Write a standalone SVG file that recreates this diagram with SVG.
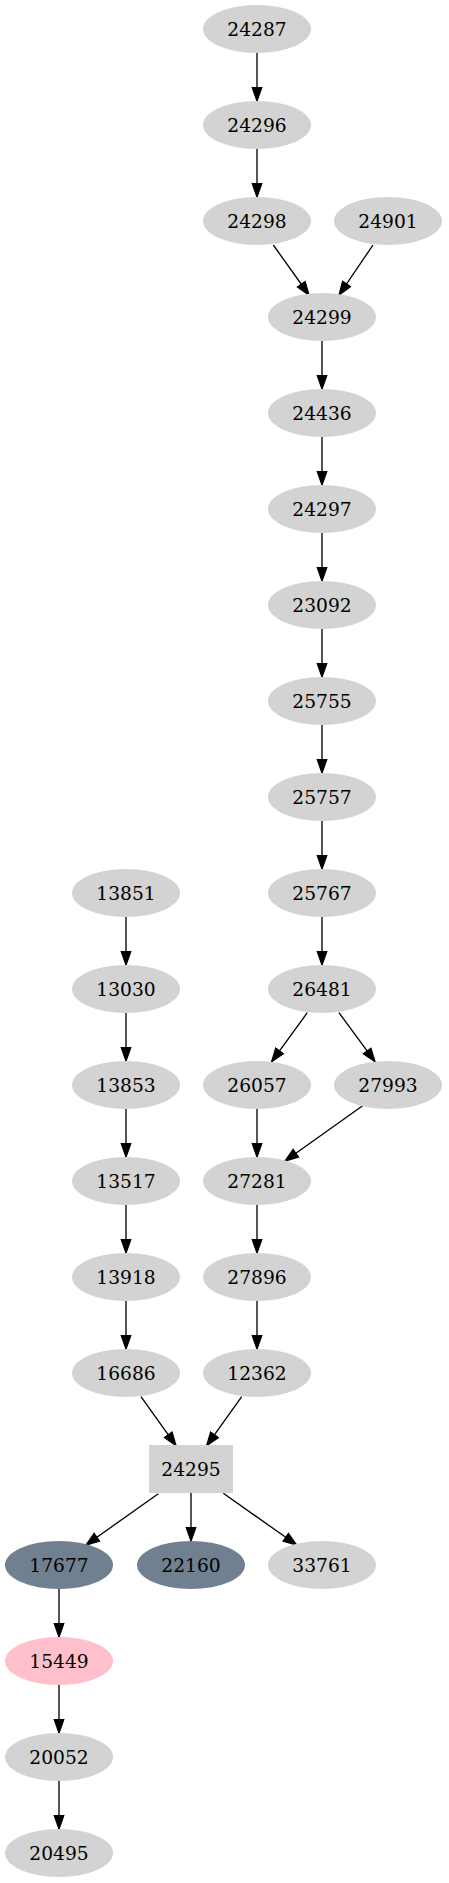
<svg xmlns="http://www.w3.org/2000/svg" width="449" height="1883" viewBox="0 0 449 1883">
<style>
.n ellipse,.n rect{fill:#d3d3d3;stroke:none}
.n.s ellipse{fill:#708090}
.n.p ellipse{fill:#ffc0cb}
.n text{font-family:"DejaVu Serif","Liberation Serif",serif;font-size:18.67px;text-anchor:middle;fill:#000}
.e path{fill:none;stroke:#000;stroke-width:1.33;marker-end:url(#a)}
</style>
<defs>
<marker id="a" markerUnits="userSpaceOnUse" markerWidth="16" markerHeight="12" viewBox="-1 -1 16 12" refX="13.3" refY="4.67" orient="auto">
<path d="M0,0 L13.3,4.67 L0,9.33 z" fill="#000" stroke="#000" stroke-width="1.33"/>
</marker>
</defs>
<rect width="449" height="1883" fill="#fff"/>
<g id="edges" class="e">
<path d="M257,53 L257,101"/>
<path d="M257,149 L257,197"/>
<path d="M273.3,245 L309,295"/>
<path d="M373,245 L339,295"/>
<path d="M322,341 L322,389"/>
<path d="M322,437 L322,485"/>
<path d="M322,533 L322,581"/>
<path d="M322,629 L322,677"/>
<path d="M322,725 L322,773"/>
<path d="M322,821 L322,869"/>
<path d="M322,917 L322,965"/>
<path d="M126,917 L126,965"/>
<path d="M126,1013 L126,1061"/>
<path d="M126,1109 L126,1157"/>
<path d="M126,1205 L126,1253"/>
<path d="M126,1301 L126,1349"/>
<path d="M307.3,1012.7 L271.7,1061.7"/>
<path d="M339,1012.7 L375,1061.7"/>
<path d="M362.3,1106 L285,1161"/>
<path d="M257,1109 L257,1157"/>
<path d="M257,1205 L257,1253"/>
<path d="M257,1301 L257,1349"/>
<path d="M141,1396.7 L176,1445.7"/>
<path d="M241.7,1396.7 L206.7,1445.7"/>
<path d="M158.3,1493.7 L86,1545"/>
<path d="M191,1493 L191,1541"/>
<path d="M223.3,1493.3 L296.7,1545"/>
<path d="M59,1589 L59,1637"/>
<path d="M59,1685 L59,1733"/>
<path d="M59,1781 L59,1829"/>
</g>
<g id="n24287" class="n"><ellipse cx="257" cy="29" rx="54" ry="24"/><text x="257" y="35.5">24287</text></g>
<g id="n24296" class="n"><ellipse cx="257" cy="125" rx="54" ry="24"/><text x="257" y="131.5">24296</text></g>
<g id="n24298" class="n"><ellipse cx="257" cy="221" rx="54" ry="24"/><text x="257" y="227.5">24298</text></g>
<g id="n24901" class="n"><ellipse cx="388" cy="221" rx="54" ry="24"/><text x="388" y="227.5">24901</text></g>
<g id="n24299" class="n"><ellipse cx="322" cy="317" rx="54" ry="24"/><text x="322" y="323.5">24299</text></g>
<g id="n24436" class="n"><ellipse cx="322" cy="413" rx="54" ry="24"/><text x="322" y="419.5">24436</text></g>
<g id="n24297" class="n"><ellipse cx="322" cy="509" rx="54" ry="24"/><text x="322" y="515.5">24297</text></g>
<g id="n23092" class="n"><ellipse cx="322" cy="605" rx="54" ry="24"/><text x="322" y="611.5">23092</text></g>
<g id="n25755" class="n"><ellipse cx="322" cy="701" rx="54" ry="24"/><text x="322" y="707.5">25755</text></g>
<g id="n25757" class="n"><ellipse cx="322" cy="797" rx="54" ry="24"/><text x="322" y="803.5">25757</text></g>
<g id="n25767" class="n"><ellipse cx="322" cy="893" rx="54" ry="24"/><text x="322" y="899.5">25767</text></g>
<g id="n13851" class="n"><ellipse cx="126" cy="893" rx="54" ry="24"/><text x="126" y="899.5">13851</text></g>
<g id="n26481" class="n"><ellipse cx="322" cy="989" rx="54" ry="24"/><text x="322" y="995.5">26481</text></g>
<g id="n13030" class="n"><ellipse cx="126" cy="989" rx="54" ry="24"/><text x="126" y="995.5">13030</text></g>
<g id="n13853" class="n"><ellipse cx="126" cy="1085" rx="54" ry="24"/><text x="126" y="1091.5">13853</text></g>
<g id="n26057" class="n"><ellipse cx="257" cy="1085" rx="54" ry="24"/><text x="257" y="1091.5">26057</text></g>
<g id="n27993" class="n"><ellipse cx="388" cy="1085" rx="54" ry="24"/><text x="388" y="1091.5">27993</text></g>
<g id="n13517" class="n"><ellipse cx="126" cy="1181" rx="54" ry="24"/><text x="126" y="1187.5">13517</text></g>
<g id="n27281" class="n"><ellipse cx="257" cy="1181" rx="54" ry="24"/><text x="257" y="1187.5">27281</text></g>
<g id="n13918" class="n"><ellipse cx="126" cy="1277" rx="54" ry="24"/><text x="126" y="1283.5">13918</text></g>
<g id="n27896" class="n"><ellipse cx="257" cy="1277" rx="54" ry="24"/><text x="257" y="1283.5">27896</text></g>
<g id="n16686" class="n"><ellipse cx="126" cy="1373" rx="54" ry="24"/><text x="126" y="1379.5">16686</text></g>
<g id="n12362" class="n"><ellipse cx="257" cy="1373" rx="54" ry="24"/><text x="257" y="1379.5">12362</text></g>
<g id="n24295" class="n"><rect x="149" y="1445" width="84" height="48"/><text x="191" y="1475.5">24295</text></g>
<g id="n17677" class="n s"><ellipse cx="59" cy="1565" rx="54" ry="24"/><text x="59" y="1571.5">17677</text></g>
<g id="n22160" class="n s"><ellipse cx="191" cy="1565" rx="54" ry="24"/><text x="191" y="1571.5">22160</text></g>
<g id="n33761" class="n"><ellipse cx="322" cy="1565" rx="54" ry="24"/><text x="322" y="1571.5">33761</text></g>
<g id="n15449" class="n p"><ellipse cx="59" cy="1661" rx="54" ry="24"/><text x="59" y="1667.5">15449</text></g>
<g id="n20052" class="n"><ellipse cx="59" cy="1757" rx="54" ry="24"/><text x="59" y="1763.5">20052</text></g>
<g id="n20495" class="n"><ellipse cx="59" cy="1853" rx="54" ry="24"/><text x="59" y="1859.5">20495</text></g>
</svg>
